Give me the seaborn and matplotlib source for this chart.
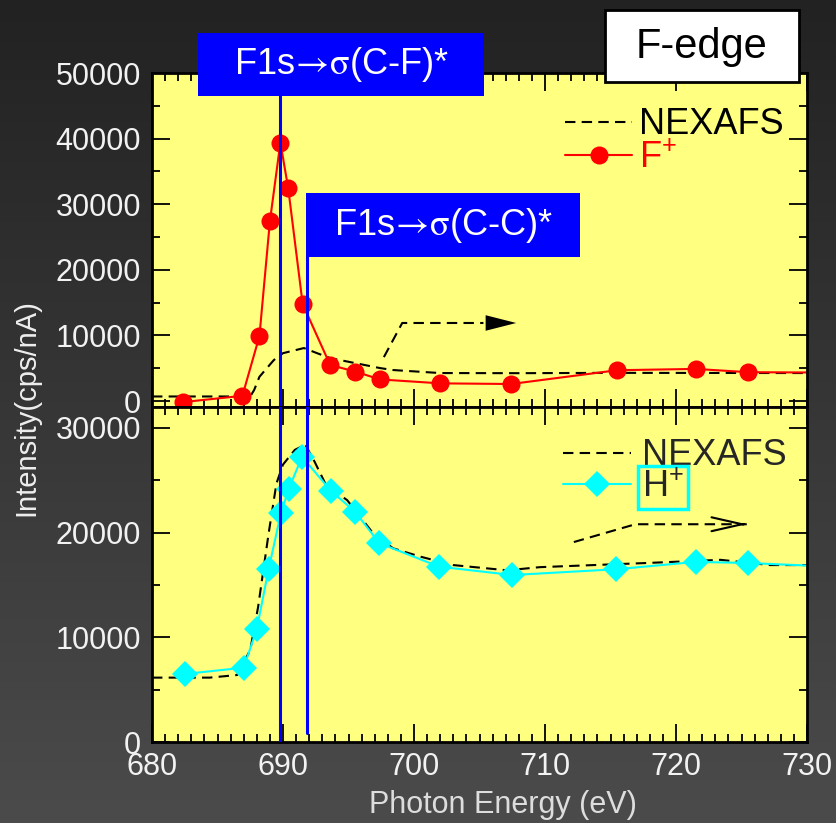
import numpy as np
import seaborn as sns
import matplotlib.pyplot as plt
from matplotlib.colors import LinearSegmentedColormap
from matplotlib.patches import Rectangle
from matplotlib.ticker import MultipleLocator

sns.set_style('ticks')
plt.rcParams['font.family'] = ['Liberation Sans', 'DejaVu Sans']
plt.rcParams['mathtext.fontset'] = 'stix'

# upper panel: F+ ion yield and NEXAFS (cps/nA)
f_energy = [682.4, 686.9, 688.2, 689.0, 689.8, 690.4, 691.5, 693.6, 695.5, 697.4, 702.0, 707.4, 715.5, 721.5, 725.5, 731.0]
f_yield = [-150, 800, 9900, 27400, 39400, 32400, 14800, 5500, 4500, 3300, 2700, 2600, 4700, 4900, 4400, 4350]
nex_top_energy = [680, 687.5, 687.8, 688.2, 689.3, 690.0, 691.6, 692.6, 693.6, 697.4, 698.4, 702, 708, 715, 730]
nex_top = [700, 700, 1700, 3700, 6250, 7300, 8080, 7300, 6550, 5030, 4730, 4270, 4250, 4300, 4270]
arrow_top_x = [697.7, 699.1, 705.3]
arrow_top_y = [6700, 11900, 11900]
arrow_top_tip = 707.8

# lower panel: H+ ion yield and NEXAFS
h_energy = [682.5, 687.0, 688.0, 688.9, 689.85, 690.45, 691.45, 693.65, 695.5, 697.35, 701.9, 707.5, 715.4, 721.5, 725.5, 731.0]
h_yield = [6500, 7100, 10800, 16500, 21900, 24200, 27250, 24000, 22000, 19000, 16750, 15950, 16500, 17200, 17100, 16800]
nex_bot_energy = [680, 684.4, 686.5, 687.5, 688.1, 688.9, 689.5, 690.0, 690.9, 691.7, 692.4, 693.3, 694.9,
                  696.9, 698.4, 700.5, 703.0, 707.1, 709.6, 717.8, 723.4, 727.2, 730]
nex_bot = [6150, 6150, 6400, 8800, 12900, 19900, 24700, 26500, 27900, 28400, 26800, 24500, 23100,
           19900, 18500, 17700, 16900, 16400, 16700, 17100, 17400, 16900, 16900]
arrow_bot_x = [712.2, 716.9, 725.4]
arrow_bot_y = [19100, 20800, 20800]

# resonance positions
cf_peak = 689.8
cc_peak = 691.8

fig = plt.figure(figsize=(8.37, 8.23), dpi=100)

# dark gradient background
bg = fig.add_axes([0, 0, 1, 1], zorder=-10)
cmap = LinearSegmentedColormap.from_list('bg', ['#222222', '#4b4b4b'])
bg.imshow(np.linspace(0, 1, 256)[:, None], aspect='auto', cmap=cmap, extent=[0, 1, 0, 1])
bg.axis('off')

ax1 = fig.add_axes([0.1816, 0.5055, 0.7826, 0.4058])
ax2 = fig.add_axes([0.1816, 0.0984, 0.7826, 0.4071])

dash = (0, (5, 3))
sns.lineplot(x=nex_top_energy, y=nex_top, ax=ax1, color='black', linewidth=1.5, linestyle=dash, label='NEXAFS')
sns.lineplot(x=f_energy, y=f_yield, ax=ax1, color='#ff0000', linewidth=1.5, marker='o', markersize=13,
             markeredgewidth=0, label=r'$\mathregular{F^{+}}$')
ax1.plot(arrow_top_x, arrow_top_y, color='black', linewidth=1.5, linestyle=dash)
ax1.annotate('', xy=(arrow_top_tip, arrow_top_y[-1]), xytext=(arrow_top_x[-1], arrow_top_y[-1]),
             arrowprops=dict(arrowstyle='-|>,head_length=1.1,head_width=0.28', color='black', lw=0,
                             mutation_scale=20, shrinkA=0, shrinkB=0))

sns.lineplot(x=nex_bot_energy, y=nex_bot, ax=ax2, color='black', linewidth=1.5, linestyle=dash, label='NEXAFS')
sns.lineplot(x=h_energy, y=h_yield, ax=ax2, color='#00ffff', linewidth=1.5, marker='D', markersize=13.5,
             markeredgewidth=0, label=r'$\mathregular{H^{+}}$')
ax2.plot(arrow_bot_x, arrow_bot_y, color='black', linewidth=1.5, linestyle=dash)
ax2.annotate('', xy=(arrow_bot_x[-1], arrow_bot_y[-1]), xytext=(arrow_bot_x[-1] - 0.3, arrow_bot_y[-1]),
             arrowprops=dict(arrowstyle='->,head_length=1.1,head_width=0.25', color='black', lw=1.5,
                             mutation_scale=20, shrinkA=0, shrinkB=0))

# resonance markers
ax1.axvline(cf_peak, color='#0000ff', linewidth=2.2, zorder=5)
ax1.axvline(cc_peak, ymax=0.46, color='#0000ff', linewidth=2.2, zorder=5)
ax2.axvline(cf_peak, color='#0000ff', linewidth=2.2, zorder=5)
ax2.axvline(cc_peak, ymin=0.027, color='#0000ff', linewidth=2.2, zorder=5)

ax1.set_ylim(-900, 50000)
ax2.set_ylim(0, 32000)
for ax in (ax1, ax2):
    ax.set_xlim(680, 730)
    ax.set_facecolor('#ffff80')
    ax.set_xlabel('')
    ax.set_ylabel('')
    ax.xaxis.set_major_locator(MultipleLocator(10))
    ax.xaxis.set_minor_locator(MultipleLocator(1))
    ax.yaxis.set_major_locator(MultipleLocator(10000))
    ax.yaxis.set_minor_locator(MultipleLocator(5000))
    ax.tick_params(which='both', direction='in', top=True, right=True, color='black',
                   labelcolor='#f2f2f2', labelsize=22)
    ax.tick_params(which='major', length=13, width=1.3)
    ax.tick_params(which='minor', length=6, width=1.3)
    ax.tick_params(axis='y', pad=8)
    ax.tick_params(axis='x', pad=7)
    for s in ax.spines.values():
        s.set_color('black')
        s.set_linewidth(2)
ax1.tick_params(axis='x', labelbottom=False)

leg1 = ax1.legend(loc='upper left', bbox_to_anchor=(0.631, 0.897), frameon=False, fontsize=26,
                  handlelength=1.85, handletextpad=0.2, labelspacing=-0.06, borderpad=0, borderaxespad=0,
                  labelcolor=['black', '#ff0000'])
leg2 = ax2.legend(loc='upper left', bbox_to_anchor=(0.627, 0.906), frameon=False, fontsize=26,
                  handlelength=1.9, handletextpad=0.3, labelspacing=-0.1, borderpad=0, borderaxespad=0)
leg2.get_texts()[1].set_bbox(dict(facecolor='none', edgecolor='#00ffff', linewidth=2.5, pad=3))

# annotation boxes
fig.patches.append(Rectangle((0.2366, 0.8834), 0.3417, 0.0766, transform=fig.transFigure,
                             facecolor='#0000ff', edgecolor='none', zorder=6))
fig.text(0.4074, 0.9216, r'F1s$\!\rightarrow\!\mathrm{\sigma}$(C-F)*', color='white', fontsize=26,
         ha='center', va='center', zorder=7)
fig.patches.append(Rectangle((0.3656, 0.6877), 0.3274, 0.0778, transform=fig.transFigure,
                             facecolor='#0000ff', edgecolor='none', zorder=6))
fig.text(0.5293, 0.7266, r'F1s$\!\rightarrow\!\mathrm{\sigma}$(C-C)*', color='white', fontsize=26,
         ha='center', va='center', zorder=7)
fig.patches.append(Rectangle((0.7228, 0.9004), 0.2318, 0.0875, transform=fig.transFigure,
                             facecolor='white', edgecolor='black', linewidth=2, zorder=6))
fig.text(0.8387, 0.9429, 'F-edge', color='black', fontsize=30, ha='center', va='center', zorder=7)

fig.text(0.032, 0.505, 'Intensity(cps/nA)', color='#eeeeee', fontsize=21, rotation=90,
         ha='center', va='center')
fig.text(0.601, 0.022, 'Photon Energy (eV)', color='#dddddd', fontsize=22, ha='center', va='center')

fig.savefig('out.png', dpi=100)
